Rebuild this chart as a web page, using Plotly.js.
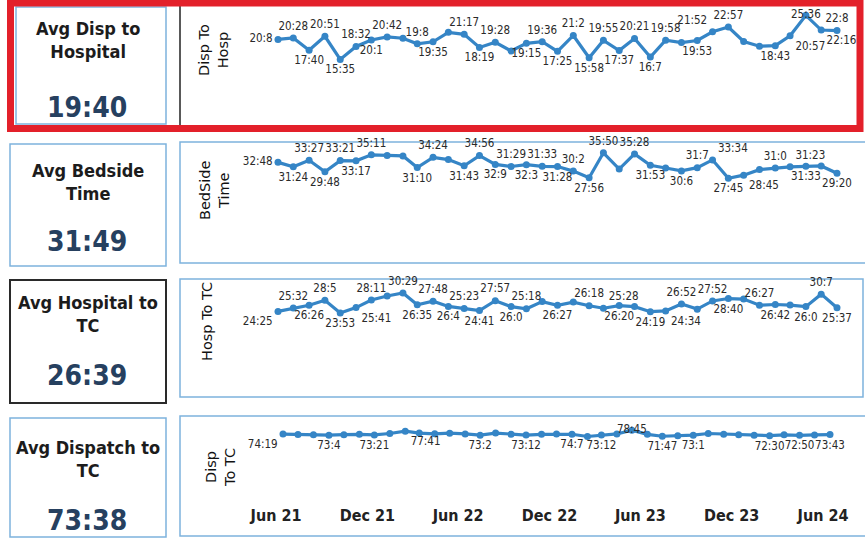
<!DOCTYPE html>
<html><head><meta charset="utf-8">
<script src="https://cdn.plot.ly/plotly-3.0.1.min.js"></script>
<style>html,body{margin:0;padding:0;background:#fff;}#chart{width:865px;height:539px;}</style>
</head><body><div id="chart"></div>
<script>
// ---------------- DATA ----------------
const monthDates = [
 "2021-06-15","2021-07-15","2021-08-15","2021-09-15","2021-10-15","2021-11-15","2021-12-15",
 "2022-01-15","2022-02-15","2022-03-15","2022-04-15","2022-05-15","2022-06-15",
 "2022-07-15","2022-08-15","2022-09-15","2022-10-15","2022-11-15","2022-12-15",
 "2023-01-15","2023-02-15","2023-03-15","2023-04-15","2023-05-15","2023-06-15",
 "2023-07-15","2023-08-15","2023-09-15","2023-10-15","2023-11-15","2023-12-15",
 "2024-01-15","2024-02-15","2024-03-15","2024-04-15","2024-05-15","2024-06-15"];

const dispToHospTimes = ["20:8","20:28","17:40","20:51","15:35","18:32","20:1","20:42","20:24","19:8","19:35","21:45","21:17","18:19","19:28","17:30","19:15","19:36","17:25","21:2","15:58","19:55","17:37","20:21","16:7","19:58","19:25","19:53","21:52","22:57","19:40","18:35","18:43","20:57","25:36","22:16","22:8"];
const bedsideTimes = ["32:48","31:24","33:27","29:48","33:21","33:17","35:11","35:0","34:50","31:10","34:24","33:40","31:43","34:56","32:9","31:29","32:3","31:33","31:28","30:2","27:56","35:50","30:40","35:28","31:53","31:0","30:6","31:7","33:34","27:45","28:45","30:30","31:0","31:23","31:33","31:40","29:20"];
const hospToTcTimes = ["24:25","25:32","26:26","28:5","23:53","25:41","28:11","29:30","30:29","26:35","27:48","26:4","25:23","24:41","27:57","26:0","25:18","27:40","26:27","27:30","26:18","25:28","26:20","26:0","24:19","24:34","26:52","25:10","27:52","28:40","28:30","26:27","26:42","26:30","26:0","30:7","25:37"];
const dispToTcTimes = ["74:19","73:50","73:30","73:4","73:40","74:0","73:21","75:0","77:41","75:30","74:40","75:20","74:30","73:2","75:30","74:0","73:12","74:0","74:30","74:7","71:30","73:12","74:30","78:45","74:0","71:47","72:30","73:1","75:0","74:10","73:30","73:0","72:30","73:30","72:50","73:20","73:43"];

const kpiTitles = ["Avg Disp to<br>Hospital","Avg Bedside<br>Time","Avg Hospital to<br>TC","Avg Dispatch to<br>TC"];
const kpiValues = ["19:40","31:49","26:39","73:38"];
const axisTitles = ["Disp To<br>Hosp","BedSide<br>Time","Hosp To TC","Disp<br>To TC"];
const tickDates = ["2021-06-01","2021-12-01","2022-06-01","2022-12-01","2023-06-01","2023-12-01","2024-06-01"];
const tickLabels = ["Jun 21","Dec 21","Jun 22","Dec 22","Jun 23","Dec 23","Jun 24"];

// ---------------- STYLE / LAYOUT ----------------
// label placement per point: T top, Q top-left, P top-right, B bottom, l bottom-left, r bottom-right,
// L middle-left, M on the point, . hidden
const labelPlacement = [
 "LTBTBTBT.TB.TBT.BTBTBTBTBT.BQT..BrMrT",
 "LBTBTBT..BT.BTBTBTBTBT.TB.BTPBr.TPB.B",
 "lTBTBrT.TBTBTBTBT.B.TPB.BrT.TB.TB.BTB",
 "l..B..B.r....B..B..B.B.M.B.B....B.B.B"];
const posMap = {T:'top center',Q:'top left',P:'top right',B:'bottom center',l:'bottom left',
  r:'bottom right',L:'middle left',M:'middle center','.':'top center'};

const W = 865, H = 539;
const fx = px => px / W, fy = py => 1 - py / H;
const toMin = s => { const p = s.split(':'); return +p[0] + (+p[1]) / 60; };
const fmt = ms => new Date(ms).toISOString().slice(0,19).replace('T',' ');

const panelGeom = [
 {yTop:10,  yZero:128,   ppm:4.4,  xFirst:278, xLast:837, titleX:214, titleY:50,  cardTitleY:40,  cardValueY:107},
 {yTop:145, yZero:266,   ppm:3.16, xFirst:278, xLast:837, titleX:215, titleY:190, cardTitleY:182, cardValueY:241},
 {yTop:282, yZero:385.4, ppm:3.03, xFirst:278, xLast:837, titleX:207, titleY:322, cardTitleY:314, cardValueY:376},
 {yTop:420, yZero:498,   ppm:0.86, xFirst:283, xLast:830, titleX:220, titleY:468, cardTitleY:459, cardValueY:520}
];
const series = [dispToHospTimes, bedsideTimes, hospToTcTimes, dispToTcTimes];

const t0 = Date.parse(monthDates[0]), tN = Date.parse(monthDates[monthDates.length-1]);
const msPerPx = (tN - t0) / (837 - 278);
const R0 = t0 - (278 - 250) * msPerPx, R1 = tN + (860 - 837) * msPerPx;

const narrow = "'Liberation Sans Narrow', 'Arial Narrow', 'DejaVu Sans Condensed', 'Liberation Sans', sans-serif";
const lineColor = '#3585c6';

const traces = [];
const layout = {
  width: W, height: H, margin: {l:0, r:0, t:0, b:0},
  paper_bgcolor: '#ffffff', plot_bgcolor: 'rgba(0,0,0,0)',
  showlegend: false, shapes: [], annotations: []
};

series.forEach((times, k) => {
  const g = panelGeom[k];
  const place = labelPlacement[k];
  const ax = k === 0 ? '' : String(k + 1);
  traces.push({
    type: 'scatter', mode: 'lines+markers+text',
    x: monthDates, y: times.map(toMin),
    text: times.map((t, i) => place[i] === '.' ? '' : t),
    textposition: times.map((t, i) => posMap[place[i]]),
    textfont: {family: narrow, size: 11.5, color: '#2a2a2a'},
    line: {color: lineColor, width: 3.2},
    marker: {color: lineColor, size: 7},
    cliponaxis: false, hoverinfo: 'skip',
    xaxis: 'x' + ax, yaxis: 'y' + ax
  });
  const pxPerMs = (g.xLast - g.xFirst) / (tN - t0);
  const d0 = g.xFirst + (R0 - t0) * pxPerMs, d1 = g.xFirst + (R1 - t0) * pxPerMs;
  layout['xaxis' + ax] = {
    type: 'date', domain: [fx(d0), fx(d1)], range: [fmt(R0), fmt(R1)],
    anchor: 'y' + ax, showgrid: false, zeroline: false, showline: false, ticks: '',
    showticklabels: k === 3, tickvals: tickDates, ticktext: tickLabels,
    ticklabelstandoff: 6,
    tickfont: {family: narrow, size: 16, color: '#222', weight: 'bold'}
  };
  layout['yaxis' + ax] = {
    domain: [fy(g.yZero), fy(g.yTop)], range: [0, (g.yZero - g.yTop) / g.ppm],
    anchor: 'x' + ax, showgrid: false, zeroline: false, showline: false,
    showticklabels: false, ticks: ''
  };
  layout.annotations.push({
    xref: 'paper', yref: 'paper', x: fx(g.titleX), y: fy(g.titleY),
    xanchor: 'center', yanchor: 'middle', textangle: -90, showarrow: false,
    text: axisTitles[k], font: {family: "'DejaVu Sans', sans-serif", size: 14.5, color: '#111'}
  });
  layout.annotations.push({
    xref: 'paper', yref: 'paper', x: fx(88), y: fy(g.cardTitleY),
    xanchor: 'center', yanchor: 'middle', showarrow: false, align: 'center',
    text: kpiTitles[k], font: {family: narrow, size: 18, color: '#1c1c1c', weight: 'bold'}
  });
  layout.annotations.push({
    xref: 'paper', yref: 'paper', x: fx(87), y: fy(g.cardValueY),
    xanchor: 'center', yanchor: 'middle', showarrow: false,
    text: kpiValues[k], font: {family: narrow, size: 28, color: '#26405f', weight: 'bold'}
  });
});

const rect = (x0, y0, x1, y1, color, width) => ({
  type: 'rect', xref: 'paper', yref: 'paper',
  x0: fx(x0), x1: fx(x1), y0: fy(y1), y1: fy(y0),
  line: {color: color, width: width}, fillcolor: 'rgba(0,0,0,0)', layer: 'below'
});
const seg = (x0, y0, x1, y1, color, width) => ({
  type: 'line', xref: 'paper', yref: 'paper',
  x0: fx(x0), x1: fx(x1), y0: fy(y0), y1: fy(y1), line: {color: color, width: width}, layer: 'below'
});
const blue = '#7db3dd';
layout.shapes.push(
  rect(16, 7, 166, 124, blue, 1.5),
  seg(180, 5, 180, 125, '#222', 1.5),
  rect(10.5, 3, 860, 128.5, '#e3202a', 7),
  rect(10, 144, 166, 266, blue, 1.5),
  rect(180, 142, 875, 263, blue, 1.5),
  rect(10, 280, 166, 403, '#2a2a2a', 2),
  rect(180, 279, 863, 397, blue, 1.5),
  rect(10, 418, 166, 537, blue, 1.5),
  rect(180, 416, 875, 536, blue, 1.5)
);

Plotly.newPlot('chart', traces, layout, {displayModeBar: false, staticPlot: true});
</script>
</body></html>
